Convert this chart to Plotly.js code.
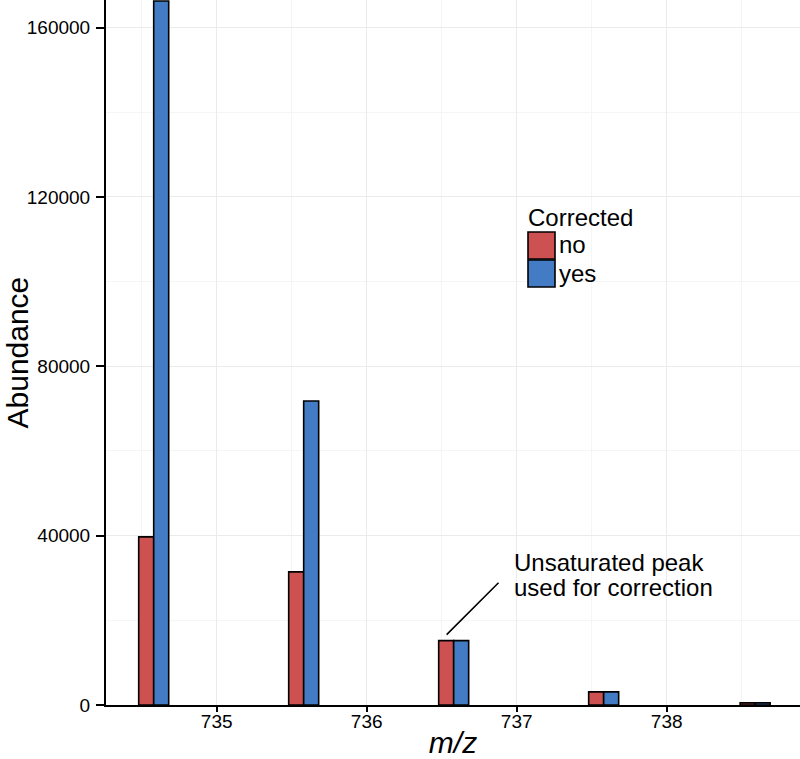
<!DOCTYPE html>
<html>
<head>
<meta charset="utf-8">
<script src="https://cdn.plot.ly/plotly-3.0.1.min.js"></script>
<style>html,body{margin:0;padding:0;background:#fff;}#chart{width:800px;height:759px;}</style>
</head>
<body>
<div id="chart"></div>
<script>
// m/z positions of the isotopic peaks (group centres)
var mz = [734.58, 735.58, 736.58, 737.58, 738.59];
// Abundance, uncorrected ("no") and corrected ("yes")
var abundanceNo  = [39700, 31450, 15200, 3100, 500];
var abundanceYes = [166250, 71800, 15200, 3100, 500];
var seriesNames = ['no', 'yes'];
var legendTitle = 'Corrected';
var xTickVals = [735, 736, 737, 738];
var yTickVals = [0, 40000, 80000, 120000, 160000];
var noteLines = ['Unsaturated peak', 'used for correction'];
var xTitle = '<i>m/z</i>';
var yTitle = 'Abundance';

var RED = '#CC5150', BLUE = '#437CC4';
var FONT = 'Liberation Sans, Arial, Helvetica, sans-serif';

var traces = [
  {type: 'bar', x: mz, y: abundanceNo, name: seriesNames[0], showlegend: false,
   marker: {color: RED, line: {color: '#000', width: 1.6}}},
  {type: 'bar', x: mz, y: abundanceYes, name: seriesNames[1], showlegend: false,
   marker: {color: BLUE, line: {color: '#000', width: 1.6}}}
];

// manual legend (paper coordinates)
function px2x(p){ return (p - 106) / 694; }
function py2y(p){ return (705 - p) / 705; }
var shapes = [
  {type: 'rect', xref: 'paper', yref: 'paper', x0: px2x(528), x1: px2x(555), y0: py2y(259), y1: py2y(232),
   fillcolor: RED, line: {color: '#000', width: 1.6}},
  {type: 'rect', xref: 'paper', yref: 'paper', x0: px2x(528), x1: px2x(555), y0: py2y(287), y1: py2y(260),
   fillcolor: BLUE, line: {color: '#000', width: 1.6}}
];

var annotations = [
  {xref: 'paper', yref: 'paper', x: px2x(526), y: py2y(217), xanchor: 'left', yanchor: 'middle',
   text: legendTitle, showarrow: false, font: {family: FONT, size: 24, color: '#000'}},
  {xref: 'paper', yref: 'paper', x: px2x(557), y: py2y(245), xanchor: 'left', yanchor: 'middle',
   text: seriesNames[0], showarrow: false, font: {family: FONT, size: 24, color: '#000'}},
  {xref: 'paper', yref: 'paper', x: px2x(557), y: py2y(273), xanchor: 'left', yanchor: 'middle',
   text: seriesNames[1], showarrow: false, font: {family: FONT, size: 24, color: '#000'}},
  // y axis title
  {xref: 'paper', yref: 'paper', x: px2x(17), y: 0.5, xanchor: 'center', yanchor: 'middle',
   textangle: -90, text: yTitle, showarrow: false, font: {family: FONT, size: 30, color: '#000'}},
  // note text
  {xref: 'x', yref: 'y', x: 736.97, y: 33700, xanchor: 'left', yanchor: 'middle',
   text: noteLines[0], showarrow: false, font: {family: FONT, size: 24, color: '#000'}},
  {xref: 'x', yref: 'y', x: 736.97, y: 27700, xanchor: 'left', yanchor: 'middle',
   text: noteLines[1], showarrow: false, font: {family: FONT, size: 24, color: '#000'}},
  // leader line
  {xref: 'x', yref: 'y', x: 736.533, y: 16630, axref: 'x', ayref: 'y', ax: 736.889, ay: 29230,
   text: '', showarrow: true, arrowhead: 0, arrowwidth: 1.6, arrowcolor: '#000', standoff: 0, startstandoff: 0}
];

var layout = {
  width: 800, height: 759,
  margin: {l: 106, r: 0, t: 0, b: 54, pad: 0},
  paper_bgcolor: '#fff', plot_bgcolor: '#fff',
  font: {family: FONT, color: '#000'},
  barmode: 'group', bargap: 0.8, bargroupgap: 0,
  showlegend: false,
  xaxis: {
    range: [734.262, 738.889], tickvals: xTickVals, ticktext: xTickVals.map(String),
    showline: true, linecolor: '#000', linewidth: 2, mirror: false,
    ticks: 'outside', ticklen: 5, tickwidth: 2, tickcolor: '#000',
    ticklabelstandoff: -7,
    showgrid: true, gridcolor: '#EBEBEB', gridwidth: 1, zeroline: false,
    minor: {showgrid: true, dtick: 0.5, tick0: 735, gridcolor: '#F5F5F5', gridwidth: 1},
    tickfont: {family: FONT, size: 19, color: '#000'},
    title: {text: xTitle, font: {family: FONT, size: 30, color: '#000'}, standoff: 6}
  },
  yaxis: {
    range: [0, 166500], tickvals: yTickVals, ticktext: yTickVals.map(String),
    showline: true, linecolor: '#000', linewidth: 2,
    ticks: 'outside', ticklen: 8, tickwidth: 2, tickcolor: '#000',
    ticklabelstandoff: 2,
    showgrid: true, gridcolor: '#EBEBEB', gridwidth: 1, zeroline: false,
    minor: {showgrid: true, dtick: 20000, tick0: 0, gridcolor: '#F5F5F5', gridwidth: 1},
    tickfont: {family: FONT, size: 19, color: '#000'}
  },
  shapes: shapes,
  annotations: annotations
};

Plotly.newPlot('chart', traces, layout, {displayModeBar: false, staticPlot: true});
</script>
</body>
</html>
